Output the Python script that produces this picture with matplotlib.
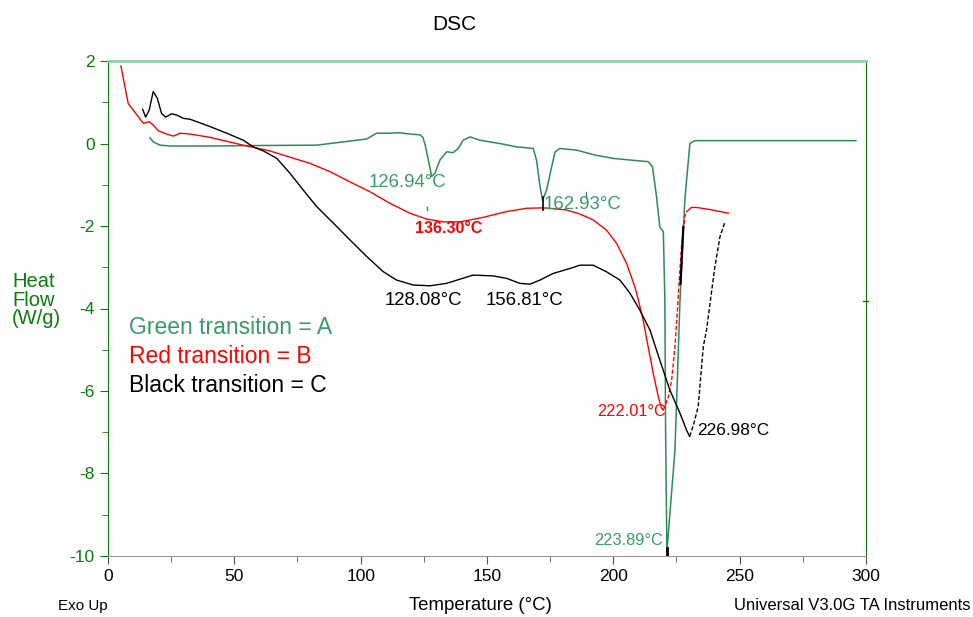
import matplotlib.pyplot as plt
from matplotlib.ticker import MultipleLocator

plt.rcParams['font.family'] = ['Liberation Sans', 'DejaVu Sans']
plt.rcParams['axes.unicode_minus'] = False

# Green run (A)
green_t = [16.6, 17.9, 20.6, 24.5, 40, 56.2, 82.6, 93.1, 102.4, 106.3, 111.6, 115.6, 119.5,
           123.5, 124.6, 125.4, 126.8, 128.1, 129.4, 131.4, 134.0, 136.6, 138.6, 140.6,
           143.3, 147.2, 155.1, 161.7, 168.3, 169.6, 171.0, 172.0, 173.6, 175.6, 177.0,
           178.9, 185.5, 192.7, 199.9, 206.6, 213.8, 215.5, 217.1, 218.4, 219.8, 220.4,
           220.7, 221.2, 224.4, 226.4, 228.3, 230.3, 232.3, 260, 296]
green_h = [0.14, 0.04, -0.04, -0.06, -0.06, -0.05, -0.04, 0.04, 0.11, 0.25, 0.25, 0.26, 0.23,
           0.21, 0.15, 0.0, -0.4, -0.80, -0.72, -0.4, -0.2, -0.22, -0.12, 0.08,
           0.16, 0.08, 0.0, -0.08, -0.12, -0.4, -1.05, -1.37, -1.13, -0.56, -0.2,
           -0.12, -0.16, -0.28, -0.36, -0.4, -0.44, -0.56, -1.29, -2.02, -2.14, -3.79,
           -7.0, -9.9, -7.43, -3.79, -1.37, 0.0, 0.07, 0.07, 0.07]

# Red run (B)
red_t = [5.1, 6.7, 8.0, 10.0, 12.0, 14.0, 16.3, 17.9, 19.9, 23.2, 25.9, 28.5, 32.4, 40.4,
         53.5, 64.1, 72, 79.9, 87.8, 95.8, 103.7, 111.6, 119.5, 126.1, 132.7, 139.3, 148.5,
         157.8, 165.7, 172.3, 181.5, 186.8, 192, 197.3, 201.3, 205.2, 208.5, 209.9, 211.8,
         213.8, 215.8, 217.8, 219.1, 219.8]
red_h = [1.88, 1.38, 0.97, 0.81, 0.65, 0.49, 0.53, 0.45, 0.31, 0.23, 0.18, 0.25, 0.23, 0.15,
         -0.04, -0.18, -0.33, -0.48, -0.68, -0.93, -1.17, -1.45, -1.69, -1.83, -1.9, -1.9, -1.79,
         -1.65, -1.57, -1.56, -1.61, -1.71, -1.85, -2.1, -2.42, -2.9, -3.47, -3.79, -4.28,
         -4.93, -5.57, -6.14, -6.42, -6.46]
red_rise_t = [219.8, 221.8, 223.1, 224.4, 225.3, 226.1, 227.0, 228.3, 229.0]
red_rise_h = [-6.46, -6.14, -5.73, -4.93, -4.12, -3.31, -2.5, -1.77, -1.65]
red_end_t = [229.0, 230.9, 232.9, 238.2, 245.5]
red_end_h = [-1.65, -1.55, -1.55, -1.6, -1.69]

# Black run (C)
black_t = [13.7, 14.9, 16.3, 17.9, 19.5, 21.2, 22.8, 25.2, 27.2, 29.8, 32.4, 35.1, 40.4, 47,
           53.5, 57.5, 61.5, 66.8, 72, 77.3, 82.6, 89.2, 95.8, 102.4, 109, 114.2, 120.8,
           127.4, 134, 144.5, 152.5, 157.8, 163, 167, 171, 176.2, 182.8, 186.8, 192, 197.3,
           202.6, 206.6, 210.5, 214.5, 218.4, 222.4, 226.4, 229.0, 230.2]
black_h = [0.83, 0.64, 0.81, 1.26, 1.10, 0.73, 0.64, 0.72, 0.69, 0.61, 0.59, 0.53, 0.41, 0.25,
           0.08, -0.08, -0.18, -0.36, -0.72, -1.13, -1.53, -1.93, -2.34, -2.74, -3.11, -3.31, -3.43,
           -3.45, -3.39, -3.19, -3.21, -3.27, -3.39, -3.41, -3.31, -3.15, -3.03, -2.95, -2.95, -3.11,
           -3.31, -3.63, -4.04, -4.52, -5.25, -5.98, -6.54, -6.95, -7.1]
black_rise_t = [230.2, 231.6, 233.6, 235.6, 236.9, 239.5, 240.2, 242.2, 244.2]
black_rise_h = [-7.1, -6.85, -6.38, -4.93, -4.52, -3.31, -2.99, -2.26, -1.9]
black_stub_t = [226.6, 227.7]
black_stub_h = [-3.4, -2.02]

GREEN = '#2e8b57'
GREEN_TXT = '#3a9a6a'
AXIS_GREEN = '#0a7a0a'

fig = plt.figure(figsize=(9.73, 6.17), dpi=100)
ax = fig.add_axes([0.111, 0.0989, 0.779, 0.8022])

ax.plot(green_t, green_h, color=GREEN, lw=1.1)
ax.plot(red_t, red_h, color='red', lw=1.0)
ax.plot(red_rise_t, red_rise_h, color='red', lw=1.0, ls=(0, (3, 1.5)))
ax.plot(red_end_t, red_end_h, color='red', lw=1.0)
ax.plot(black_t, black_h, color='black', lw=1.0)
ax.plot(black_rise_t, black_rise_h, color='black', lw=1.0, ls=(0, (3, 1.5)))
ax.plot(black_stub_t, black_stub_h, color='black', lw=1.6)

# small peak markers left by the analysis software
ax.plot([172.3, 172.3], [-1.3, -1.6], color='black', lw=1.2)
ax.plot([126.3, 126.3], [-1.54, -1.62], color=GREEN, lw=1.0)
ax.plot([189.2, 189.2], [-1.18, -1.32], color=GREEN, lw=1.0)
ax.plot([221.3, 221.3], [-9.8, -10.0], color='black', lw=2.0)

ax.set_xlim(0, 300)
ax.set_ylim(-10, 2)
ax.xaxis.set_major_locator(MultipleLocator(50))
ax.xaxis.set_minor_locator(MultipleLocator(25))
ax.yaxis.set_major_locator(MultipleLocator(2))
ax.yaxis.set_minor_locator(MultipleLocator(1))
ax.tick_params(axis='both', which='both', direction='out', labelsize=12.5)
ax.tick_params(axis='x', which='major', length=6, color='#555555')
ax.tick_params(axis='x', which='minor', length=4, color='#555555')
ax.tick_params(axis='y', which='major', length=6, color=AXIS_GREEN, labelcolor=AXIS_GREEN)
ax.tick_params(axis='y', which='minor', length=4, color=AXIS_GREEN)

ax.spines['left'].set_color(AXIS_GREEN)
ax.spines['right'].set_color(AXIS_GREEN)
ax.spines['top'].set_color('#90d0aa')
ax.spines['top'].set_linewidth(2.0)
ax.spines['bottom'].set_color('#999999')
ax.plot([299, 301], [-3.82, -3.82], color=AXIS_GREEN, lw=1.0, clip_on=False)

# peak labels
ax.text(118.7, -0.95, '126.94°C', color=GREEN_TXT, fontsize=13.4, ha='center', va='center')
ax.text(135.0, -2.07, '136.30°C', color='red', fontsize=11.5, fontweight='bold', ha='center', va='center')
ax.text(188.0, -1.47, '162.93°C', color=GREEN_TXT, fontsize=13.4, ha='center', va='center')
ax.text(124.7, -3.8, '128.08°C', color='black', fontsize=13.4, ha='center', va='center')
ax.text(165.0, -3.8, '156.81°C', color='black', fontsize=13.4, ha='center', va='center')
ax.text(207.4, -6.5, '222.01°C', color='red', fontsize=11.8, ha='center', va='center')
ax.text(233.2, -6.95, '226.98°C', color='black', fontsize=12.4, ha='left', va='center')
ax.text(206.2, -9.62, '223.89°C', color=GREEN_TXT, fontsize=11.8, ha='center', va='center')

# transition key
ax.text(8.5, -4.45, 'Green transition = A', color=GREEN_TXT, fontsize=16.5, va='center')
ax.text(8.5, -5.16, 'Red transition = B', color='red', fontsize=16.5, va='center')
ax.text(8.5, -5.87, 'Black transition = C', color='black', fontsize=16.5, va='center')

fig.text(454 / 973, 1 - 25 / 617, 'DSC', fontsize=15, ha='center', va='center')
fig.text(12 / 973, 1 - 300 / 617, 'Heat\nFlow\n(W/g)', color=AXIS_GREEN, fontsize=14.5,
         ha='left', va='center', linespacing=0.95)
fig.text(58 / 973, 1 - 606 / 617, 'Exo Up', fontsize=10.9, ha='left', va='center')
fig.text(480 / 973, 1 - 606 / 617, 'Temperature (°C)', fontsize=13.4, ha='center', va='center')
fig.text(970 / 973, 1 - 606 / 617, 'Universal V3.0G TA Instruments', fontsize=12,
         ha='right', va='center')

fig.savefig('out.png', dpi=100)
